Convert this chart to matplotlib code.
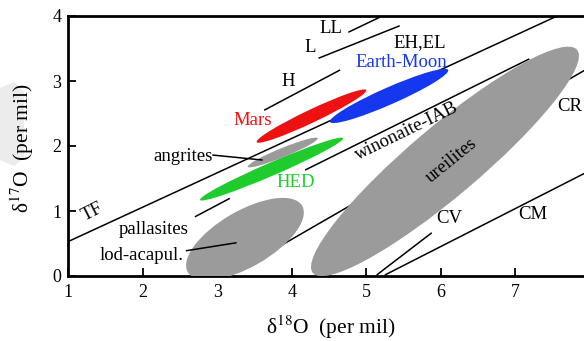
import matplotlib
matplotlib.use("Agg")
import matplotlib.pyplot as plt
from matplotlib.patches import Ellipse, Polygon
from matplotlib.transforms import IdentityTransform
import numpy as np

plt.rcParams['font.family'] = ['Liberation Serif', 'DejaVu Serif']
plt.rcParams['mathtext.fontset'] = 'stix'

# ---------------- data ----------------
x_ticks = [1, 2, 3, 4, 5, 6, 7, 8]
y_ticks = [0, 1, 2, 3, 4]

# fractionation lines (d18O, d17O) start/end
line_names = ["TF", "H", "L", "LL", "pall", "winonaite", "CCAM", "CV", "CM"]
line_x1 = [1.00, 3.63, 4.36, 4.76, 2.70, 4.18, 3.17, 5.14, 5.25]
line_y1 = [0.53, 2.55, 3.35, 3.75, 0.91, 1.63, 0.015, 0.015, 0.015]
line_x2 = [7.62, 4.65, 5.45, 5.18, 3.17, 7.19, 8.00, 5.88, 8.00]
line_y2 = [4.03, 3.17, 3.85, 3.98, 1.195, 3.34, 3.21, 0.665, 1.62]

# fields: major-axis end points (d18O, d17O)
field_names = ["lod-acapul", "ureilites", "angrites", "HED", "Mars", "Earth-Moon"]
field_x1 = [2.605, 4.285, 3.41, 2.77, 3.53, 4.515]
field_y1 = [0.06, 0.046, 1.68, 1.17, 2.06, 2.37]
field_x2 = [4.14, 7.83, 4.35, 4.69, 5.00, 6.10]
field_y2 = [1.08, 3.48, 2.12, 2.12, 2.86, 3.17]

# text labels
label_texts = ["LL", "L", "H", "EH,EL", "Earth-Moon", "Mars", "angrites", "HED",
               "winonaite-IAB", "ureilites", "CR", "CV", "CM", "TF", "pallasites",
               "lod-acapul."]
label_x = [4.53, 4.245, 3.95, 5.72, 5.47, 3.47, 2.54, 4.06, 5.55, 6.14, 7.73, 6.12, 7.23, 1.32, 2.145, 1.98]
label_y = [3.815, 3.52, 3.00, 3.585, 3.29, 2.385, 1.846, 1.446, 2.23, 1.785, 2.615, 0.885, 0.94, 0.985, 0.72, 0.31]

# leader lines
leader_x1 = [2.945, 2.59]
leader_y1 = [1.86, 0.39]
leader_x2 = [3.60, 3.25]
leader_y2 = [1.785, 0.51]

# ---------------- styles ----------------
field_width_px = [56, 70, 9, 13, 13, 17]
field_colors = ["#9b9b9b", "#9b9b9b", "#9b9b9b", "#1fcc2e", "#ee1111", "#1537ee"]
label_colors = ["black", "black", "black", "black", "#1537ee", "#ee1111", "black", "#1fcc2e",
                "black", "black", "black", "black", "black", "black", "black", "black"]
label_rot = [0, 0, 0, 0, 0, 0, 0, 0, 26, 39, 0, 0, 0, 27, 0, 0]

W, H = 584, 341
fig = plt.figure(figsize=(W / 100, H / 100), dpi=100)
fig.patch.set_facecolor("white")

# light gray artifact at left edge
fig.patches.append(Polygon([(0, 253), (14, 259), (24, 249), (24, 183), (14, 175), (0, 181)],
                           closed=True, transform=IdentityTransform(),
                           facecolor="#ececec", edgecolor="none", zorder=0))

ax = fig.add_axes([68.2 / W, 65 / H, (589.7 - 68.2) / W, 260 / H])
ax.set_xlim(1, 8)
ax.set_ylim(0, 4)
ax.set_autoscale_on(False)

for x1, y1, x2, y2 in zip(line_x1, line_y1, line_x2, line_y2):
    ax.plot([x1, x2], [y1, y2], color="black", lw=1.1, zorder=2, solid_capstyle="butt")

for x1, y1, x2, y2 in zip(leader_x1, leader_y1, leader_x2, leader_y2):
    ax.plot([x1, x2], [y1, y2], color="black", lw=1.1, zorder=4)

fig.canvas.draw()
for x1, y1, x2, y2, w, c in zip(field_x1, field_y1, field_x2, field_y2, field_width_px, field_colors):
    p1 = ax.transData.transform((x1, y1))
    p2 = ax.transData.transform((x2, y2))
    ctr = (p1 + p2) / 2
    d = p2 - p1
    length = np.hypot(*d)
    ang = np.degrees(np.arctan2(d[1], d[0]))
    e = Ellipse(ctr, length, w, angle=ang, transform=IdentityTransform(),
                facecolor=c, edgecolor="none", zorder=3)
    ax.add_patch(e)

for t, x, y, c, r in zip(label_texts, label_x, label_y, label_colors, label_rot):
    ax.text(x, y, t, color=c, rotation=r, ha="center", va="center",
            fontsize=13.5, rotation_mode="anchor", zorder=5)

ax.set_xticks(x_ticks)
ax.set_yticks(y_ticks)
ax.tick_params(direction="in", length=6, width=1.3, labelsize=13, pad=6)
ax.tick_params(axis="y", pad=5)
for s in ax.spines.values():
    s.set_linewidth(2)

fig.text(331 / W, 1 - 327 / H, "δ$^{18}$O  (per mil)", ha="center", va="center", fontsize=15.5)
fig.text(22 / W, 1 - 148 / H, "δ$^{17}$O  (per mil)", ha="center", va="center",
         fontsize=15.5, rotation=90)

fig.savefig("out.png", dpi=100, facecolor="white")
